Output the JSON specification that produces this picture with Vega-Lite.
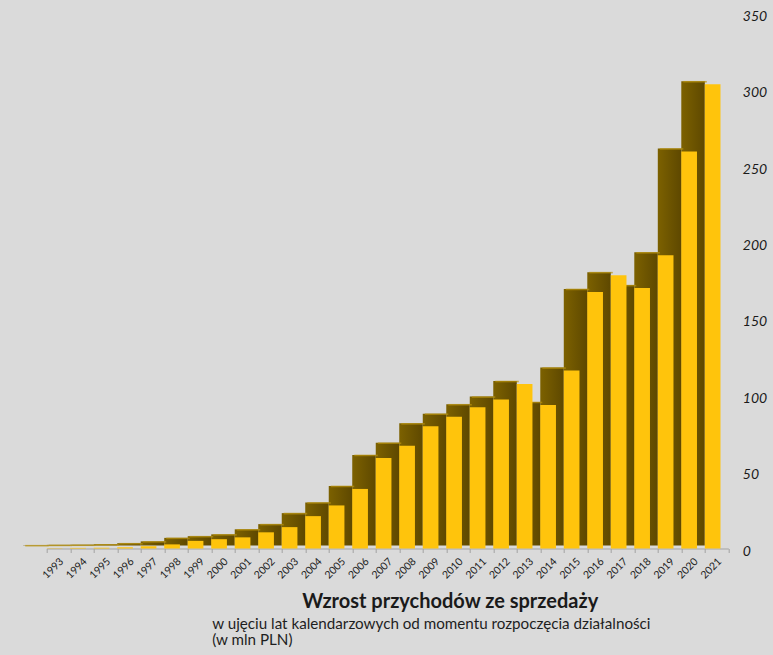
{
  "$schema": "https://vega.github.io/schema/vega-lite/v6.json",
  "autosize": {"type": "none"},
  "padding": {"left": 46.7, "top": 14, "right": 44.7, "bottom": 106.5},
  "width": 681.6,
  "height": 534.5,
  "background": "#dadada",
  "title": {
    "text": ["w ujęciu lat kalendarzowych od momentu rozpoczęcia  działalności", " (w mln PLN)"],
    "orient": "bottom",
    "anchor": "start",
    "align": "left",
    "dx": 189,
    "offset": 5,
    "font": "Lato",
    "fontSize": 15.2,
    "fontWeight": "normal",
    "lineHeight": 16.8,
    "color": "#1e1e1e"
  },
  "config": {
    "view": {"stroke": null},
    "axis": {"grid": false}
  },
  "data": {
    "values": [
      {"year": "1993", "value": 0.2},
      {"year": "1994", "value": 0.4},
      {"year": "1995", "value": 0.5},
      {"year": "1996", "value": 0.8},
      {"year": "1997", "value": 1.5},
      {"year": "1998", "value": 2.7},
      {"year": "1999", "value": 5.0},
      {"year": "2000", "value": 6.1},
      {"year": "2001", "value": 7.3},
      {"year": "2002", "value": 10.6},
      {"year": "2003", "value": 14.0},
      {"year": "2004", "value": 21.2},
      {"year": "2005", "value": 28.2},
      {"year": "2006", "value": 39.0},
      {"year": "2007", "value": 59.3},
      {"year": "2008", "value": 67.3},
      {"year": "2009", "value": 80.0},
      {"year": "2010", "value": 86.3},
      {"year": "2011", "value": 92.5},
      {"year": "2012", "value": 97.5},
      {"year": "2013", "value": 107.7},
      {"year": "2014", "value": 94.0},
      {"year": "2015", "value": 116.5},
      {"year": "2016", "value": 168.0},
      {"year": "2017", "value": 179.0},
      {"year": "2018", "value": 170.5},
      {"year": "2019", "value": 192.0},
      {"year": "2020", "value": 260.0},
      {"year": "2021", "value": 304.0}
    ]
  },
  "encoding": {
    "x": {
      "field": "year",
      "type": "ordinal",
      "sort": null,
      "scale": {"paddingInner": 0, "paddingOuter": 0},
      "axis": {
        "title": "Wzrost przychodów ze sprzedaży",
        "titleFont": "Lato",
        "titleFontSize": 20,
        "titleFontWeight": "bold",
        "titleColor": "#1a1a1a",
        "titleAlign": "center",
        "titleBaseline": "middle",
        "titleX": 403,
        "titleY": 53,
        "tickBand": "extent",
        "domainColor": "#a3a3a3",
        "tickColor": "#a3a3a3",
        "tickSize": 4,
        "labelAngle": -45,
        "labelAlign": "right",
        "labelBaseline": "middle",
        "labelOffset": 3,
        "labelPadding": 7,
        "labelFont": "Lato",
        "labelFontSize": 10.5,
        "labelColor": "#222222"
      }
    },
    "y": {
      "field": "value",
      "type": "quantitative",
      "scale": {"domain": [0, 350], "nice": false},
      "axis": {
        "orient": "right",
        "title": null,
        "values": [0, 50, 100, 150, 200, 250, 300, 350],
        "domain": false,
        "ticks": false,
        "labelPadding": 14,
        "labelOffset": 2.5,
        "labelFont": "Lato",
        "labelFontStyle": "italic",
        "labelFontSize": 14,
        "labelColor": "#1a1a1a"
      }
    }
  },
  "layer": [
    {
      "mark": {
        "type": "bar",
        "width": {"band": 1},
        "xOffset": -23.5,
        "yOffset": -3,
        "color": {
          "gradient": "linear",
          "x1": 0, "y1": 0, "x2": 1, "y2": 0,
          "stops": [
            {"offset": 0, "color": "#7c6100"},
            {"offset": 1, "color": "#5e4800"}
          ]
        }
      }
    },
    {
      "mark": {
        "type": "tick",
        "orient": "horizontal",
        "size": 23.5,
        "thickness": 1.6,
        "xOffset": -21.5,
        "yOffset": -2.5,
        "color": "#b8920c"
      }
    },
    {
      "mark": {
        "type": "bar",
        "width": {"band": 0.667},
        "xOffset": -3.9,
        "color": "#ffc40c"
      }
    }
  ]
}
